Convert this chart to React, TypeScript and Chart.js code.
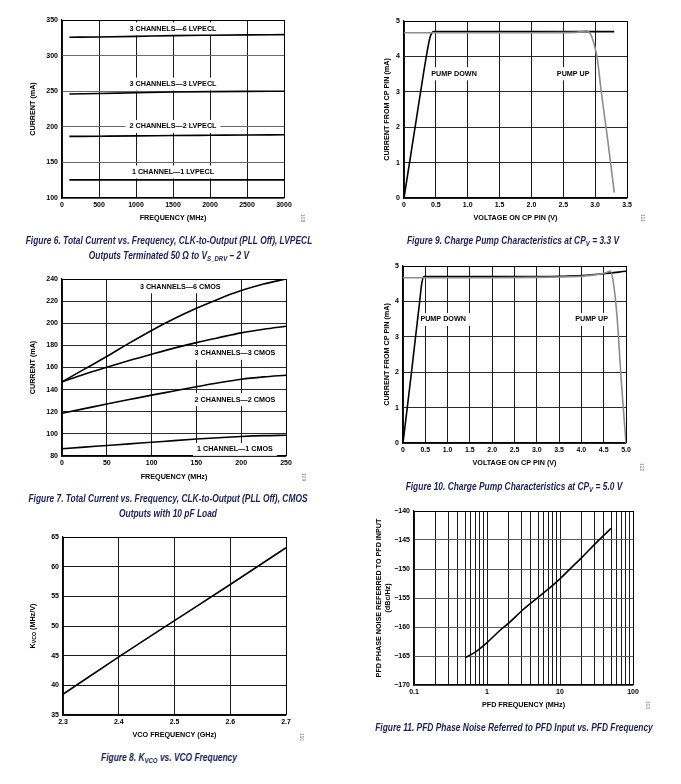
import React, { useEffect, useRef } from "react";
import { Chart, registerables } from "chart.js";

Chart.register(...registerables);

const FONT = "'Liberation Sans', Arial, Helvetica, sans-serif";
const CAPTION_FONT = "'Liberation Sans', Arial, sans-serif";
const CAPTION_COLOR = "#1b1f5e";

// ---------- Figure 6: LVPECL current vs frequency ----------
const fig6Freq = [100, 500, 1000, 1500, 2000, 2500, 3000];
const fig6Lvpecl6 = [325.8, 326.2, 327, 328, 328.6, 329.1, 329.4];
const fig6Lvpecl3 = [246, 246.8, 247.8, 248.8, 249.4, 249.8, 250];
const fig6Lvpecl2 = [186.5, 186.8, 187.2, 187.7, 188.1, 188.5, 188.8];
const fig6Lvpecl1 = [125.5, 125.5, 125.5, 125.5, 125.5, 125.5, 125.5];
const fig6XTicks = [0, 500, 1000, 1500, 2000, 2500, 3000];
const fig6XLabels = ["0", "500", "1000", "1500", "2000", "2500", "3000"];
const fig6YTicks = [100, 150, 200, 250, 300, 350];
const fig6YLabels = ["100", "150", "200", "250", "300", "350"];
const fig6Notes = [
  { x: 1500, y: 337.5, text: "3 CHANNELS\u20146 LVPECL" },
  { x: 1500, y: 260, text: "3 CHANNELS\u20143 LVPECL" },
  { x: 1500, y: 200.5, text: "2 CHANNELS\u20142 LVPECL" },
  { x: 1500, y: 136.5, text: "1 CHANNEL\u20141 LVPECL" },
];

// ---------- Figure 7: CMOS current vs frequency ----------
const fig7Freq = [0, 25, 50, 75, 100, 125, 150, 175, 200, 225, 250];
const fig7Cmos6 = [147, 158.5, 170, 182, 193.5, 204, 213.5, 222, 229.5, 235.5, 240];
const fig7Cmos3 = [147, 154, 160.2, 166.3, 172, 177.5, 182.5, 187, 191.3, 194.6, 197.3];
const fig7Cmos2 = [118.6, 122.8, 127, 131, 135, 138.8, 142.6, 146.2, 149.4, 151.5, 153];
const fig7Cmos1 = [86.5, 88, 89.5, 91, 92.4, 93.9, 95.3, 96.5, 97.6, 98.4, 98.8];
const fig7XTicks = [0, 50, 100, 150, 200, 250];
const fig7XLabels = ["0", "50", "100", "150", "200", "250"];
const fig7YTicks = [80, 100, 120, 140, 160, 180, 200, 220, 240];
const fig7YLabels = ["80", "100", "120", "140", "160", "180", "200", "220", "240"];
const fig7Notes = [
  { x: 132, y: 233, text: "3 CHANNELS\u20146 CMOS" },
  { x: 193, y: 172.8, text: "3 CHANNELS\u20143 CMOS" },
  { x: 193, y: 131, text: "2 CHANNELS\u20142 CMOS" },
  { x: 193, y: 86, text: "1 CHANNEL\u20141 CMOS" },
];

// ---------- Figure 8: KVCO vs VCO frequency ----------
const fig8Freq = [2.3, 2.4, 2.5, 2.6, 2.7];
const fig8Kvco = [38.5, 44.8, 50.9, 57, 63.2];
const fig8XTicks = [2.3, 2.4, 2.5, 2.6, 2.7];
const fig8XLabels = ["2.3", "2.4", "2.5", "2.6", "2.7"];
const fig8YTicks = [35, 40, 45, 50, 55, 60, 65];
const fig8YLabels = ["35", "40", "45", "50", "55", "60", "65"];

// ---------- Figure 9: charge pump at CPV = 3.3 V ----------
const fig9DownV = [0, 0.1, 0.2, 0.3, 0.36, 0.41, 0.47, 1, 2, 3, 3.3];
const fig9DownI = [0, 1.15, 2.3, 3.45, 4.1, 4.55, 4.7, 4.7, 4.7, 4.7, 4.7];
const fig9UpV = [0, 1, 2, 2.7, 2.86, 2.93, 2.975, 3.03, 3.1, 3.2, 3.3];
const fig9UpI = [4.67, 4.67, 4.67, 4.68, 4.72, 4.62, 4.4, 3.98, 2.95, 1.6, 0.15];
const fig9XTicks = [0, 0.5, 1, 1.5, 2, 2.5, 3, 3.5];
const fig9XLabels = ["0", "0.5", "1.0", "1.5", "2.0", "2.5", "3.0", "3.5"];
const fig9YTicks = [0, 1, 2, 3, 4, 5];
const fig9YLabels = ["0", "1", "2", "3", "4", "5"];
const fig9Notes = [
  { x: 0.786, y: 3.51, text: "PUMP DOWN" },
  { x: 2.656, y: 3.51, text: "PUMP UP" },
];

// ---------- Figure 10: charge pump at CPV = 5.0 V ----------
const fig10DownV = [0, 0.1, 0.2, 0.3, 0.37, 0.42, 0.47, 1, 2, 3, 3.5, 4, 4.5, 5];
const fig10DownI = [0, 1.05, 2.1, 3.2, 3.95, 4.5, 4.7, 4.7, 4.7, 4.7, 4.71, 4.73, 4.78, 4.85];
const fig10UpV = [0, 1, 2, 3, 3.5, 4, 4.3, 4.55, 4.65, 4.72, 4.8, 4.9, 5];
const fig10UpI = [4.67, 4.67, 4.67, 4.68, 4.69, 4.71, 4.75, 4.81, 4.86, 4.5, 3.55, 1.65, 0];
const fig10XTicks = [0, 0.5, 1, 1.5, 2, 2.5, 3, 3.5, 4, 4.5, 5];
const fig10XLabels = ["0", "0.5", "1.0", "1.5", "2.0", "2.5", "3.0", "3.5", "4.0", "4.5", "5.0"];
const fig10YTicks = [0, 1, 2, 3, 4, 5];
const fig10YLabels = ["0", "1", "2", "3", "4", "5"];
const fig10Notes = [
  { x: 0.9, y: 3.49, text: "PUMP DOWN" },
  { x: 4.23, y: 3.49, text: "PUMP UP" },
];

// ---------- Figure 11: PFD phase noise vs PFD frequency ----------
const fig11Freq = [0.5, 0.7, 1, 1.5, 2, 3, 5, 7, 10, 15, 20, 30, 50];
const fig11Noise = [-165.3, -164.3, -162.7, -160.6, -159.3, -157.2, -154.9, -153.4, -151.7, -149.5, -148, -145.7, -143];
const fig11XTicks = [0.1, 0.2, 0.3, 0.4, 0.5, 0.6, 0.7, 0.8, 0.9, 1, 2, 3, 4, 5, 6, 7, 8, 9, 10, 20, 30, 40, 50, 60, 70, 80, 90, 100];
const fig11XLabels = ["0.1", "", "", "", "", "", "", "", "", "1", "", "", "", "", "", "", "", "", "10", "", "", "", "", "", "", "", "", "100"];
const fig11YTicks = [-170, -165, -160, -155, -150, -145, -140];
const fig11YLabels = ["\u2212170", "\u2212165", "\u2212160", "\u2212155", "\u2212150", "\u2212145", "\u2212140"];

type Note = { x: number; y: number; text: string };
type Series = { xs: number[]; ys: number[]; color: string };
type Spec = {
  left: number; top: number; width: number; height: number;
  padTop: number; padRight: number; yAxisW: number; xAxisH: number;
  xLog?: boolean;
  xTicks: number[]; xLabels: string[]; yTicks: number[]; yLabels: string[];
  xTitle: string; xTitlePad: number;
  yTitle: string | string[] | null; yTitlePad: number;
  series: Series[]; notes: Note[];
  hGrid: string; vGrid: string;
};

const BLACK = "#000";
const GRAY = "#8c8c8c";

function notePlugin(notes: Note[]) {
  return {
    id: "boxNotes",
    beforeDatasetsDraw(chart: any) {
      const ctx = chart.ctx;
      const xs = chart.scales.x;
      const ys = chart.scales.y;
      ctx.save();
      ctx.font = `bold 7.2px ${FONT}`;
      ctx.textAlign = "center";
      ctx.textBaseline = "middle";
      for (const n of notes) {
        const px = xs.getPixelForValue(n.x);
        const py = ys.getPixelForValue(n.y);
        const w = ctx.measureText(n.text).width;
        ctx.fillStyle = "#fff";
        ctx.fillRect(px - w / 2 - 4, py - 6.5, w + 8, 13);
        ctx.fillStyle = "#000";
        ctx.fillText(n.text, px, py);
      }
      ctx.restore();
    },
  };
}

function buildConfig(s: Spec): any {
  const tickFont = { family: FONT, size: 7, weight: "bold" as const };
  const titleFont = { family: FONT, size: 7.2, weight: "bold" as const, lineHeight: 1.25 };
  return {
    type: "line",
    data: {
      datasets: s.series.map((se) => ({
        data: se.xs.map((x, i) => ({ x, y: se.ys[i] })),
        borderColor: se.color,
        borderWidth: 1.6,
        pointRadius: 0,
        fill: false,
        cubicInterpolationMode: "monotone",
      })),
    },
    options: {
      responsive: false,
      animation: false,
      events: [],
      layout: { padding: { top: s.padTop, right: s.padRight, left: 0, bottom: 0 } },
      plugins: { legend: { display: false }, tooltip: { enabled: false } },
      scales: {
        x: {
          type: s.xLog ? "logarithmic" : "linear",
          min: s.xTicks[0],
          max: s.xTicks[s.xTicks.length - 1],
          afterBuildTicks: (sc: any) => {
            sc.ticks = s.xTicks.map((v) => ({ value: v }));
          },
          afterFit: (sc: any) => {
            sc.height = s.xAxisH;
            sc.paddingLeft = 0; sc.paddingRight = 0; sc.paddingTop = 0; sc.paddingBottom = 0;
          },
          ticks: {
            autoSkip: false, maxRotation: 0, minRotation: 0, padding: 3,
            color: "#000", font: tickFont,
            callback: (_v: any, i: number) => s.xLabels[i],
          },
          grid: {
            drawTicks: false, lineWidth: 1,
            color: (c: any) => (c.index === s.xTicks.length - 1 ? "#000" : s.vGrid),
          },
          border: { display: true, color: "#000", width: 1.2 },
          title: { display: true, text: s.xTitle, color: "#000", font: titleFont, padding: { top: 0, bottom: s.xTitlePad } },
        },
        y: {
          type: "linear",
          min: s.yTicks[0],
          max: s.yTicks[s.yTicks.length - 1],
          afterBuildTicks: (sc: any) => {
            sc.ticks = s.yTicks.map((v) => ({ value: v }));
          },
          afterFit: (sc: any) => {
            sc.width = s.yAxisW;
            sc.paddingLeft = 0; sc.paddingRight = 0; sc.paddingTop = 0; sc.paddingBottom = 0;
          },
          ticks: {
            autoSkip: false, padding: 4, color: "#000", font: tickFont,
            callback: (_v: any, i: number) => s.yLabels[i],
          },
          grid: {
            drawTicks: false, lineWidth: 1,
            color: (c: any) => (c.index === s.yTicks.length - 1 ? "#000" : s.hGrid),
          },
          border: { display: true, color: "#000", width: 1.2 },
          title: {
            display: !!s.yTitle, text: s.yTitle || "", color: "#000", font: titleFont,
            padding: { top: s.yTitlePad, bottom: 0 },
          },
        },
      },
    },
    plugins: [notePlugin(s.notes)],
  };
}

function Plot({ spec }: { spec: Spec }) {
  const ref = useRef<HTMLCanvasElement>(null);
  useEffect(() => {
    if (!ref.current) return;
    const chart = new Chart(ref.current, buildConfig(spec));
    return () => chart.destroy();
  }, [spec]);
  return (
    <canvas
      ref={ref}
      width={spec.width}
      height={spec.height}
      style={{ position: "absolute", left: spec.left, top: spec.top, width: spec.width, height: spec.height }}
    />
  );
}

const specs: Spec[] = [
  {
    left: 0, top: 0, width: 340, height: 230, padTop: 20, padRight: 56, yAxisW: 62, xAxisH: 32,
    xTicks: fig6XTicks, xLabels: fig6XLabels, yTicks: fig6YTicks, yLabels: fig6YLabels,
    xTitle: "FREQUENCY (MHz)", xTitlePad: 7.5, yTitle: "CURRENT (mA)", yTitlePad: 28.5,
    series: [
      { xs: fig6Freq, ys: fig6Lvpecl6, color: BLACK },
      { xs: fig6Freq, ys: fig6Lvpecl3, color: BLACK },
      { xs: fig6Freq, ys: fig6Lvpecl2, color: BLACK },
      { xs: fig6Freq, ys: fig6Lvpecl1, color: BLACK },
    ],
    notes: fig6Notes, hGrid: "#6a6a6a", vGrid: "#1a1a1a",
  },
  {
    left: 340, top: 0, width: 341, height: 230, padTop: 21, padRight: 54, yAxisW: 64, xAxisH: 32,
    xTicks: fig9XTicks, xLabels: fig9XLabels, yTicks: fig9YTicks, yLabels: fig9YLabels,
    xTitle: "VOLTAGE ON CP PIN (V)", xTitlePad: 7.5, yTitle: "CURRENT FROM CP PIN (mA)", yTitlePad: 42.2,
    series: [
      { xs: fig9UpV, ys: fig9UpI, color: GRAY },
      { xs: fig9DownV, ys: fig9DownI, color: BLACK },
    ],
    notes: fig9Notes, hGrid: "#2a2a2a", vGrid: "#1a1a1a",
  },
  {
    left: 0, top: 260, width: 340, height: 230, padTop: 19, padRight: 54, yAxisW: 62, xAxisH: 34,
    xTicks: fig7XTicks, xLabels: fig7XLabels, yTicks: fig7YTicks, yLabels: fig7YLabels,
    xTitle: "FREQUENCY (MHz)", xTitlePad: 8.8, yTitle: "CURRENT (mA)", yTitlePad: 28.8,
    series: [
      { xs: fig7Freq, ys: fig7Cmos6, color: BLACK },
      { xs: fig7Freq, ys: fig7Cmos3, color: BLACK },
      { xs: fig7Freq, ys: fig7Cmos2, color: BLACK },
      { xs: fig7Freq, ys: fig7Cmos1, color: BLACK },
    ],
    notes: fig7Notes, hGrid: "#2a2a2a", vGrid: "#1a1a1a",
  },
  {
    left: 340, top: 250, width: 341, height: 230, padTop: 16, padRight: 55, yAxisW: 63, xAxisH: 37,
    xTicks: fig10XTicks, xLabels: fig10XLabels, yTicks: fig10YTicks, yLabels: fig10YLabels,
    xTitle: "VOLTAGE ON CP PIN (V)", xTitlePad: 12.5, yTitle: "CURRENT FROM CP PIN (mA)", yTitlePad: 42.2,
    series: [
      { xs: fig10UpV, ys: fig10UpI, color: GRAY },
      { xs: fig10DownV, ys: fig10DownI, color: BLACK },
    ],
    notes: fig10Notes, hGrid: "#2a2a2a", vGrid: "#1a1a1a",
  },
  {
    left: 0, top: 520, width: 340, height: 230, padTop: 17, padRight: 54, yAxisW: 63, xAxisH: 35,
    xTicks: fig8XTicks, xLabels: fig8XLabels, yTicks: fig8YTicks, yLabels: fig8YLabels,
    xTitle: "VCO FREQUENCY (GHz)", xTitlePad: 10.5, yTitle: null, yTitlePad: 0,
    series: [{ xs: fig8Freq, ys: fig8Kvco, color: BLACK }],
    notes: [], hGrid: "#1a1a1a", vGrid: "#1a1a1a",
  },
  {
    left: 340, top: 500, width: 341, height: 220, padTop: 11, padRight: 48, yAxisW: 74, xAxisH: 35,
    xLog: true,
    xTicks: fig11XTicks, xLabels: fig11XLabels, yTicks: fig11YTicks, yLabels: fig11YLabels,
    xTitle: "PFD FREQUENCY (MHz)", xTitlePad: 10.5,
    yTitle: ["PFD PHASE NOISE REFERRED TO PFD INPUT", "(dBc/Hz)"], yTitlePad: 34.5,
    series: [{ xs: fig11Freq, ys: fig11Noise, color: BLACK }],
    notes: [], hGrid: "#5a5a5a", vGrid: "#1a1a1a",
  },
];

const CAPTION_SCALE = 0.8;

const captionStyle = (cx: number, cy: number): React.CSSProperties => ({
  position: "absolute",
  left: cx - 250,
  top: cy - 7.25,
  width: 500,
  textAlign: "center",
  fontFamily: CAPTION_FONT,
  fontStyle: "italic",
  fontWeight: "bold",
  fontSize: 10.5,
  lineHeight: "14.5px",
  color: CAPTION_COLOR,
  whiteSpace: "nowrap",
  transform: `scaleX(${CAPTION_SCALE})`,
  transformOrigin: "50% 0",
});

const subStyle: React.CSSProperties = { fontSize: "0.72em", verticalAlign: "-0.25em", lineHeight: 0 };

const codeStyle = (x: number, y: number): React.CSSProperties => ({
  position: "absolute",
  left: x - 10,
  top: y - 3,
  width: 20,
  height: 6,
  lineHeight: "6px",
  textAlign: "center",
  fontFamily: FONT,
  fontSize: 5,
  color: "#777",
  transform: "rotate(90deg)",
});

export default function App() {
  return (
    <div style={{ position: "absolute", left: 0, top: 0, width: 681, height: 784, background: "#fff", overflow: "hidden" }}>
      {specs.map((s, i) => (
        <Plot key={i} spec={s} />
      ))}
      <div
        style={{
          position: "absolute", left: 33 - 60, top: 626 - 6, width: 120, height: 12, lineHeight: "12px",
          textAlign: "center", transform: "rotate(-90deg)", fontFamily: FONT, fontWeight: "bold",
          fontSize: 7.2, color: "#000", whiteSpace: "nowrap",
        }}
      >
        K<span style={subStyle}>VCO</span> (MHz/V)
      </div>

      <div style={captionStyle(168.5, 240.5)}>
        Figure 6. Total Current vs. Frequency, CLK-to-Output (PLL Off), LVPECL
        <br />
        Outputs Terminated 50 Ω to V<span style={subStyle}>S_DRV</span> – 2 V
      </div>
      <div style={captionStyle(513, 240)}>
        Figure 9. Charge Pump Characteristics at CP<span style={subStyle}>V</span> = 3.3 V
      </div>
      <div style={captionStyle(168, 498.5)}>
        Figure 7. Total Current vs. Frequency, CLK-to-Output (PLL Off), CMOS
        <br />
        Outputs with 10 pF Load
      </div>
      <div style={captionStyle(514, 486.5)}>
        Figure 10. Charge Pump Characteristics at CP<span style={subStyle}>V</span> = 5.0 V
      </div>
      <div style={captionStyle(168.5, 757.5)}>
        Figure 8. K<span style={subStyle}>VCO</span> vs. VCO Frequency
      </div>
      <div style={captionStyle(514, 727.5)}>
        Figure 11. PFD Phase Noise Referred to PFD Input vs. PFD Frequency
      </div>

      <div style={codeStyle(303, 218)}>108</div>
      <div style={codeStyle(643, 218)}>111</div>
      <div style={codeStyle(304, 477)}>109</div>
      <div style={codeStyle(642, 467)}>112</div>
      <div style={codeStyle(302, 737)}>110</div>
      <div style={codeStyle(648, 705)}>113</div>
    </div>
  );
}
